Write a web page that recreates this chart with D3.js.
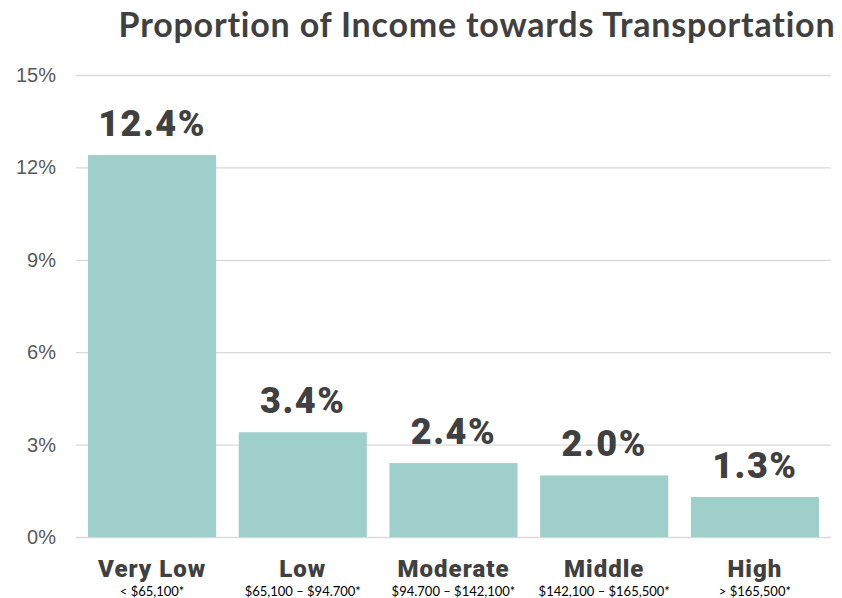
<!DOCTYPE html>
<html>
<head>
<meta charset="utf-8">
<script src="https://cdn.jsdelivr.net/npm/d3@7"></script>
<style>
  body { margin: 0; background: #fff; }
  svg { display: block; }
</style>
</head>
<body>
<svg id="chart" width="842" height="598"></svg>
<script>
var categories = ["Very Low", "Low", "Moderate", "Middle", "High"];
var ranges = ["< $65,100*", "$65,100 \u2013 $94.700*", "$94.700 \u2013 $142,100*", "$142,100 \u2013 $165,500*", "> $165,500*"];
var values = [12.4, 3.4, 2.4, 2.0, 1.3];
var yTicks = [0, 3, 6, 9, 12, 15];

var svg = d3.select("#chart");

var x = d3.scaleBand()
    .domain(categories)
    .range([76, 831])
    .paddingInner(0.15)
    .paddingOuter(0.08);

var y = d3.scaleLinear()
    .domain([0, 15])
    .range([537, 75]);

// title
svg.append("text")
    .attr("x", 477)
    .attr("y", 37)
    .attr("text-anchor", "middle")
    .attr("font-family", "Lato")
    .attr("font-weight", "bold")
    .attr("font-size", 34)
    .attr("letter-spacing", 0.8)
    .attr("fill", "#404040")
    .text("Proportion of Income towards Transportation");

// gridlines + y labels
var yAxis = d3.axisLeft(y)
    .tickValues(yTicks)
    .tickSize(-(831 - 76))
    .tickPadding(20)
    .tickFormat(function (d) { return d + "%"; });

var gy = svg.append("g")
    .attr("transform", "translate(76,0)")
    .call(yAxis);
gy.select(".domain").remove();
gy.selectAll(".tick line").attr("stroke", "#d9d9d9").attr("stroke-width", 1.3);
gy.selectAll(".tick text")
    .attr("font-family", "Liberation Sans")
    .attr("font-size", 20)
    .attr("fill", "#595959");

// bars
svg.selectAll("rect.bar")
    .data(values)
    .enter()
    .append("rect")
    .attr("class", "bar")
    .attr("x", function (d, i) { return x(categories[i]); })
    .attr("y", function (d) { return y(d); })
    .attr("width", x.bandwidth())
    .attr("height", function (d) { return y(0) - y(d); })
    .attr("fill", "#9ecfca");

// value labels
svg.selectAll("text.val")
    .data(values)
    .enter()
    .append("text")
    .attr("class", "val")
    .attr("x", function (d, i) { return x(categories[i]) + x.bandwidth() / 2; })
    .attr("y", function (d) { return y(d) - 19; })
    .attr("text-anchor", "middle")
    .attr("font-family", "Roboto")
    .attr("font-weight", 900)
    .attr("font-size", 36)
    .attr("letter-spacing", 1.5)
    .attr("fill", "#404040")
    .text(function (d) { return d.toFixed(1) + "%"; });

// category labels
svg.selectAll("text.cat")
    .data(categories)
    .enter()
    .append("text")
    .attr("class", "cat")
    .attr("x", function (d) { return x(d) + x.bandwidth() / 2; })
    .attr("y", 577)
    .attr("text-anchor", "middle")
    .attr("font-family", "Roboto")
    .attr("font-weight", 900)
    .attr("font-size", 24)
    .attr("letter-spacing", 1)
    .attr("fill", "#404040")
    .text(function (d) { return d; });

svg.selectAll("text.rng")
    .data(ranges)
    .enter()
    .append("text")
    .attr("class", "rng")
    .attr("x", function (d, i) { return x(categories[i]) + x.bandwidth() / 2; })
    .attr("y", 596)
    .attr("text-anchor", "middle")
    .attr("font-family", "Lato")
    .attr("font-size", 13)
    .attr("fill", "#000")
    .text(function (d) { return d; });
</script>
</body>
</html>
